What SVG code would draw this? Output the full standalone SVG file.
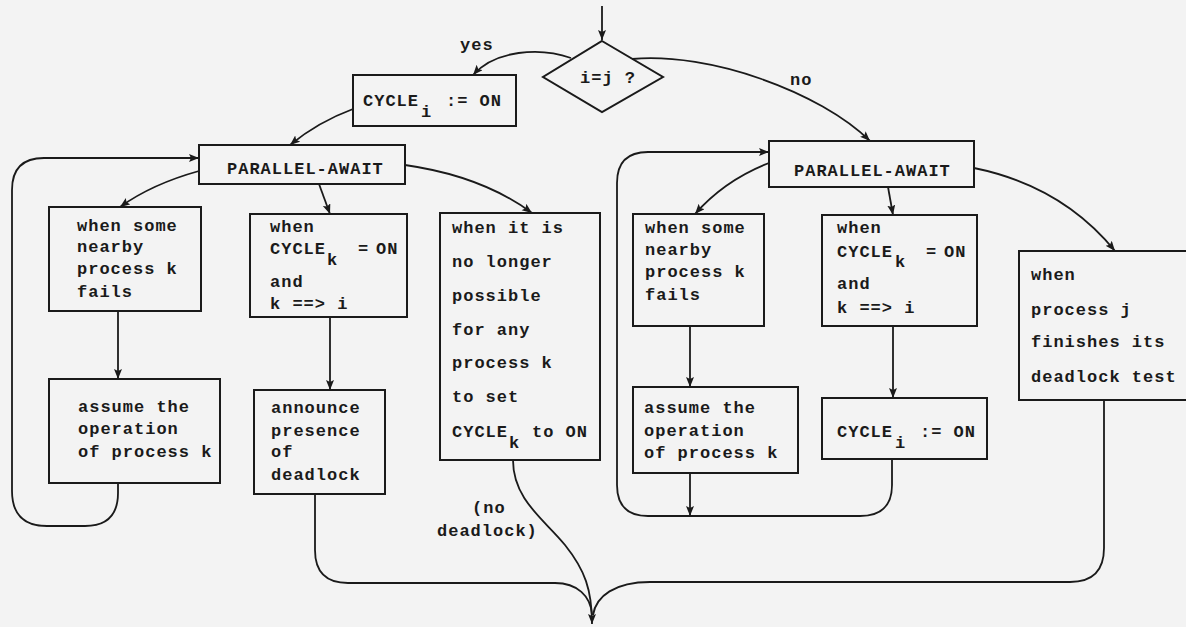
<svg xmlns="http://www.w3.org/2000/svg" width="1186" height="627" viewBox="0 0 1186 627">
<style>
.bx{fill:none;stroke:#1a1a1a;stroke-width:2}
.c{fill:none;stroke:#1a1a1a;stroke-width:1.8}
.t{font-family:"Liberation Mono","DejaVu Sans Mono",monospace;font-size:17px;font-weight:bold;letter-spacing:1px;fill:#1a1a1a}
</style>
<defs>
<marker id="ah" markerUnits="userSpaceOnUse" markerWidth="12" markerHeight="10" refX="10" refY="4" orient="auto">
<path d="M0,0 L10,4 L0,8 L2,4 z" fill="#1a1a1a"/>
</marker>
</defs>
<rect width="1186" height="627" fill="#f3f3f3"/>

<g id="connectors">
<path class="c" d="M602,6 V40" marker-end="url(#ah)"/>
<path class="c" d="M571,58 C540,47 495,50 473,75" marker-end="url(#ah)"/>
<path class="c" d="M632,59 C710,52 820,92 870,141" marker-end="url(#ah)"/>
<path class="c" d="M353,109 Q318,122 290,145" marker-end="url(#ah)"/>
<path class="c" d="M199,171 Q152,184 120,207" marker-end="url(#ah)"/>
<path class="c" d="M319,184 L330,214" marker-end="url(#ah)"/>
<path class="c" d="M405,165 Q482,176 532,213" marker-end="url(#ah)"/>
<path class="c" d="M118,311 V379" marker-end="url(#ah)"/>
<path class="c" d="M330,317 V390" marker-end="url(#ah)"/>
<path class="c" d="M118,483 V493 Q118,526 85,526 H47 Q12,526 12,491 V190 Q12,158 44,158 H199" marker-end="url(#ah)"/>
<path class="c" d="M769,163 Q725,180 695,214" marker-end="url(#ah)"/>
<path class="c" d="M888,187 L893,215" marker-end="url(#ah)"/>
<path class="c" d="M974,168 Q1062,186 1115,251" marker-end="url(#ah)"/>
<path class="c" d="M690,326 V387" marker-end="url(#ah)"/>
<path class="c" d="M893,326 V398" marker-end="url(#ah)"/>
<path class="c" d="M892,459 V485 Q892,516 860,516 H648 Q617,516 617,485 V183 Q617,152 648,152 H769" marker-end="url(#ah)"/>
<path class="c" d="M690,473 V516" marker-end="url(#ah)"/>
<path class="c" d="M315,494 V550 Q315,583 348,583 H555 C577,583 591,596 592,615"/>
<path class="c" d="M1104,400 V548 Q1104,582 1070,582 H650 C615,582 596,596 593,615"/>
<path class="c" d="M513,460 C513,500 545,520 565,545 C585,570 592,590 592,624" marker-end="url(#ah)"/>
<text class="t" x="460" y="50">yes</text>
<text class="t" x="790" y="85">no</text>
<text class="t" x="472" y="513">(no</text>
<text class="t" x="437" y="536">deadlock)</text>
</g>

<g id="decision">
<polygon class="bx" points="602,41 663,77 602,112 543,77"/>
<text class="t" x="580" y="83">i=j ?</text>
</g>

<g id="cycle-left">
<rect class="bx" x="353" y="75" width="163" height="51"/>
<text class="t" x="363" y="106">CYCLE</text>
<text class="t" x="421" y="117">i</text>
<text class="t" x="446" y="106">:= ON</text>
</g>

<g id="await-left">
<rect class="bx" x="199" y="145" width="206" height="39"/>
<text class="t" x="227" y="174">PARALLEL-AWAIT</text>
</g>

<g id="fail-left">
<rect class="bx" x="49" y="207" width="152" height="104"/>
<text class="t" x="77" y="231">when some</text>
<text class="t" x="77" y="252">nearby</text>
<text class="t" x="77" y="274">process k</text>
<text class="t" x="77" y="297">fails</text>
</g>

<g id="assume-left">
<rect class="bx" x="49" y="379" width="171" height="104"/>
<text class="t" x="78" y="412">assume the</text>
<text class="t" x="78" y="434">operation</text>
<text class="t" x="78" y="457">of process k</text>
</g>

<g id="cond-left">
<rect class="bx" x="250" y="214" width="157" height="103"/>
<text class="t" x="270" y="232">when</text>
<text class="t" x="270" y="254">CYCLE</text>
<text class="t" x="327" y="265">k</text>
<text class="t" x="358" y="254">=</text>
<text class="t" x="376" y="254" letter-spacing="-1">ON</text>
<text class="t" x="270" y="287">and</text>
<text class="t" x="270" y="309">k ==&gt; i</text>
</g>

<g id="announce">
<rect class="bx" x="254" y="390" width="131" height="104"/>
<text class="t" x="271" y="413">announce</text>
<text class="t" x="271" y="436">presence</text>
<text class="t" x="271" y="457">of</text>
<text class="t" x="271" y="480">deadlock</text>
</g>

<g id="no-longer">
<rect class="bx" x="440" y="213" width="160" height="247"/>
<text class="t" x="452" y="233">when it is</text>
<text class="t" x="452" y="267">no longer</text>
<text class="t" x="452" y="301">possible</text>
<text class="t" x="452" y="335">for any</text>
<text class="t" x="452" y="368">process k</text>
<text class="t" x="452" y="402">to set</text>
<text class="t" x="452" y="437">CYCLE</text>
<text class="t" x="509" y="448">k</text>
<text class="t" x="532" y="437">to ON</text>
</g>

<g id="await-right">
<rect class="bx" x="769" y="141" width="205" height="46"/>
<text class="t" x="794" y="176">PARALLEL-AWAIT</text>
</g>

<g id="fail-right">
<rect class="bx" x="633" y="214" width="131" height="112"/>
<text class="t" x="645" y="233">when some</text>
<text class="t" x="645" y="255">nearby</text>
<text class="t" x="645" y="277">process k</text>
<text class="t" x="645" y="300">fails</text>
</g>

<g id="assume-right">
<rect class="bx" x="633" y="387" width="165" height="86"/>
<text class="t" x="644" y="413">assume the</text>
<text class="t" x="644" y="436">operation</text>
<text class="t" x="644" y="458">of process k</text>
</g>

<g id="cond-right">
<rect class="bx" x="822" y="215" width="155" height="111"/>
<text class="t" x="837" y="233">when</text>
<text class="t" x="837" y="257">CYCLE</text>
<text class="t" x="895" y="267">k</text>
<text class="t" x="926" y="257">=</text>
<text class="t" x="944" y="257" letter-spacing="-1">ON</text>
<text class="t" x="837" y="289">and</text>
<text class="t" x="837" y="313">k ==&gt; i</text>
</g>

<g id="cycle-right">
<rect class="bx" x="822" y="398" width="165" height="61"/>
<text class="t" x="837" y="437">CYCLE</text>
<text class="t" x="895" y="448">i</text>
<text class="t" x="920" y="437">:= ON</text>
</g>

<g id="finish">
<rect class="bx" x="1019" y="251" width="172" height="149"/>
<text class="t" x="1031" y="280">when</text>
<text class="t" x="1031" y="315">process j</text>
<text class="t" x="1031" y="347">finishes its</text>
<text class="t" x="1031" y="382">deadlock test</text>
</g>
</svg>
